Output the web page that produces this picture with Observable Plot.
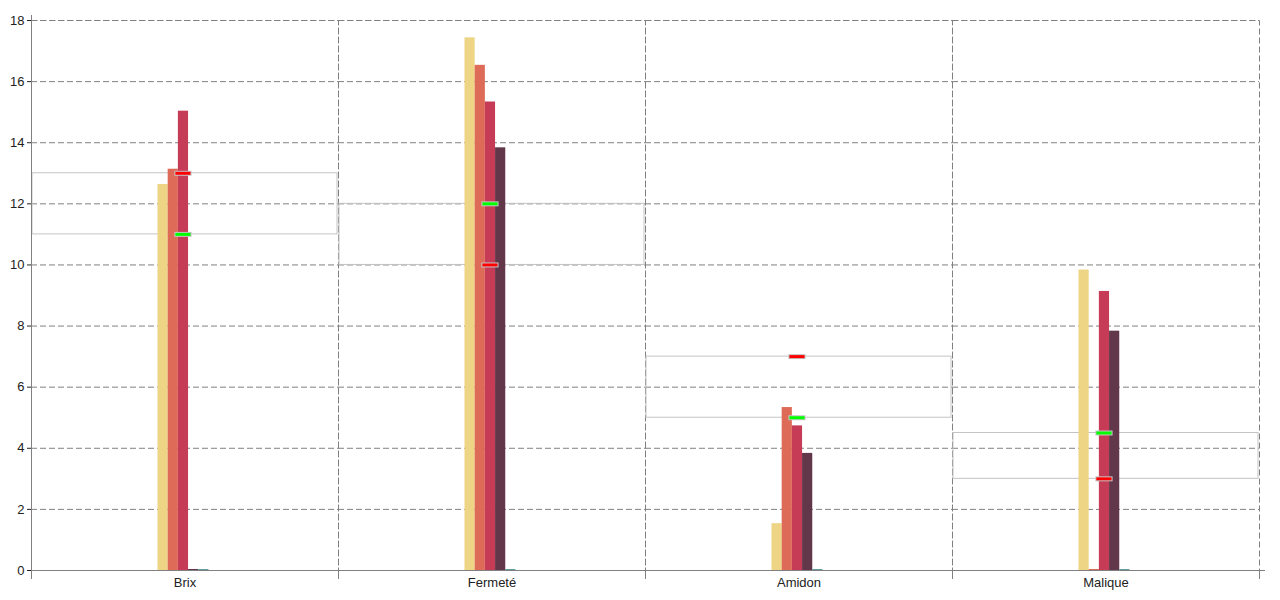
<!DOCTYPE html>
<html>
<head>
<meta charset="utf-8">
<script src="https://cdn.jsdelivr.net/npm/d3@7"></script>
<script src="https://cdn.jsdelivr.net/npm/@observablehq/plot@0.6"></script>
<style>
  html, body { margin: 0; padding: 0; background: #fff; }
</style>
</head>
<body>
<div id="chart"></div>
<script>
const categories = ["Brix", "Fermeté", "Amidon", "Malique"];
const seriesNames = ["Série 1", "Série 2", "Série 3", "Série 4", "Série 5"];
const seriesColors = ["#EDD585", "#DD6B57", "#C63C56", "#63374A", "#5f9ea0"];
const serie1 = [12.6, 17.4, 1.5, 9.8];
const serie2 = [13.1, 16.5, 5.3, 0];
const serie3 = [15.0, 15.3, 4.7, 9.1];
const serie4 = [0, 13.8, 3.8, 7.8];
const serie5 = [0, 0, 0, 0];
const redMarker = [13, 10, 7, 3];
const greenMarker = [11, 12, 5, 4.5];
const yTicks = [0, 2, 4, 6, 8, 10, 12, 14, 16, 18];

const seriesValues = [serie1, serie2, serie3, serie4, serie5];
const bars = [];
categories.forEach((c, i) => {
  seriesNames.forEach((s, j) => bars.push({cat: c, series: s, value: seriesValues[j][i]}));
});
const ranges = categories.map((c, i) => ({
  cat: c,
  lo: Math.min(redMarker[i], greenMarker[i]),
  hi: Math.max(redMarker[i], greenMarker[i])
}));
const markers = [];
categories.forEach((c, i) => {
  markers.push({cat: c, v: redMarker[i], color: "#ff0000"});
  markers.push({cat: c, v: greenMarker[i], color: "#00ff00"});
});
const markerSeries = seriesNames[2];

const chart = Plot.plot({
  width: 1280,
  height: 600,
  marginLeft: 29,
  marginRight: 20,
  marginTop: 20,
  marginBottom: 30,
  style: {fontFamily: "'Liberation Sans', Arial, sans-serif", fontSize: "13px", color: "#222", background: "#fff"},
  fx: {domain: categories, padding: 0, label: null, tickSize: 0, tickPadding: 7},
  x: {domain: seriesNames, paddingInner: 0, paddingOuter: 12.56, round: false, align: 0.494, axis: null},
  y: {domain: [0, 18], ticks: yTicks, tickSize: 4, tickPadding: 3, label: null},
  color: {domain: seriesNames, range: seriesColors},
  marks: [
    Plot.gridY(yTicks, {stroke: "#808080", strokeOpacity: 1, strokeDasharray: "6,3"}),
    Plot.frame({stroke: "#808080", strokeDasharray: "6,3"}),
    Plot.rect(ranges, {fx: "cat", y1: "lo", y2: "hi", stroke: "#c4c4c4", fill: "none", insetLeft: 1, insetRight: 1}),
    Plot.barY(bars, {fx: "cat", x: "series", y: "value", fill: "series", insetTop: -1}),
    Plot.frame({anchor: "left", stroke: "#808080", insetTop: 550, insetBottom: -8}),
    Plot.frame({anchor: "right", stroke: "#808080", insetTop: 550, insetBottom: -8, facet: "super"}),
    Plot.frame({anchor: "left", stroke: "#808080", insetTop: -5, insetBottom: -8, facet: "super"}),
    Plot.frame({anchor: "bottom", stroke: "#808080", insetRight: -5, facet: "super"}),
    Plot.tickY(markers, {fx: "cat", x: () => markerSeries, y: "v", stroke: "#c4c4c4", strokeWidth: 5, insetLeft: -3.5, insetRight: -3.5}),
    Plot.tickY(markers, {fx: "cat", x: () => markerSeries, y: "v", stroke: "color", strokeWidth: 3, insetLeft: -2.5, insetRight: -2.5})
  ]
});
document.getElementById("chart").appendChild(chart);
</script>
</body>
</html>
